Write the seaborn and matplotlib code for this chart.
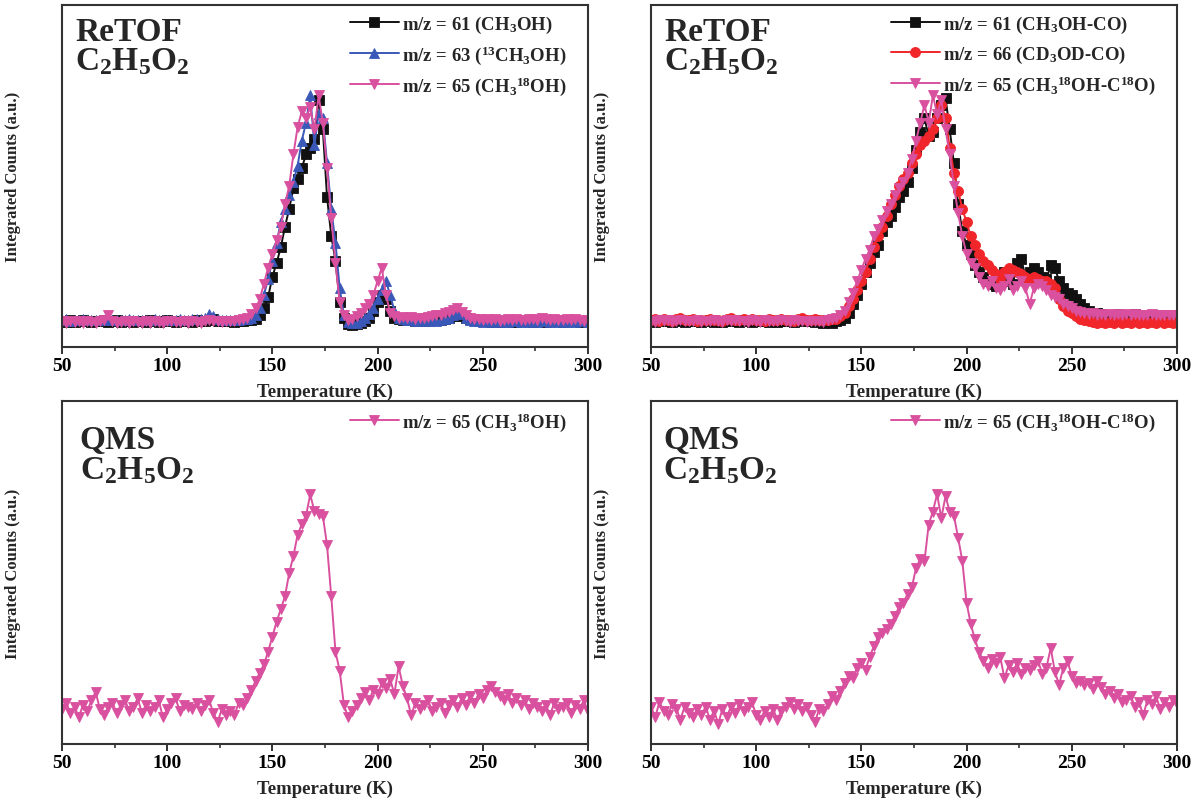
import numpy as np
import pandas as pd
import matplotlib
matplotlib.use("Agg")
import matplotlib.pyplot as plt
from matplotlib.ticker import MultipleLocator
import seaborn as sns

# ---------------- data (arbitrary units: baseline 0, peak 100) -------------
temperature = np.arange(50, 301, 2)  # K

# ReTOF, methanol isotopologues
retof_ch3oh_61 = [
    0.5, 0.2, 0.8, 0.1, 0.4, 0.9, 0.3, 0.0, 0.6, 0.4,
    0.7, 0.2, 0.3, 0.8, 0.1, 0.5, 0.4, 0.0, 0.6, 0.3,
    0.2, 0.7, 0.4, 0.1, 0.5, 0.8, 0.3, 0.2, 0.6, 0.4,
    0.5, 0.1, 0.7, 0.3, 0.6, 0.9, 1.2, 0.6, 0.4, 0.3,
    0.5, 0.2, 0.6, 0.4, 0.8, 1.0, 1.5, 3.0, 6.0, 11.0,
    20, 26, 33, 42, 50, 59, 63, 68, 74, 77,
    81, 98, 85, 55, 38, 27, 9, 2, -1, -1.5,
    -1, -0.5, 0.5, 2, 5, 9, 12, 10, 5, 2,
    1.5, 1.0, 1.2, 0.8, 0.5, 0.9, 0.6, 1.0, 0.7, 0.8,
    1.0, 1.5, 2.0, 2.5, 3.0, 2.6, 2.0, 1.2, 0.8, 0.5,
    0.3, 0.5, 0.2, 0.4, 0.1, 0.3, 0.5, 0.2, 0.0, 0.4,
    0.3, 0.6, 0.2, 0.5, 0.3, 0.1, 0.4, 0.7, 0.3, 0.2,
    0.5, 0.3, 0.6, 0.2, 0.4, 0.3,
]
retof_13ch3oh_63 = [
    0.8, 1.2, 0.6, 1.0, 0.9, 1.3, 0.7, 1.1, 0.8, 1.0,
    0.9, 1.2, 0.8, 1.1, 0.7, 1.0, 1.3, 0.8, 0.9, 1.1,
    0.7, 1.0, 1.2, 0.8, 1.1, 0.9, 1.0, 0.8, 1.2, 0.9,
    1.0, 1.3, 1.5, 1.2, 2.0, 3.5, 2.8, 1.5, 1.0, 0.9,
    1.1, 0.8, 1.0, 1.2, 1.5, 2.0, 3.0, 6.0, 12, 19,
    27, 35, 44, 50, 56, 62, 69, 80, 88, 100,
    78, 92, 90, 70, 50, 35, 15, 3, 0, -0.5,
    -0.5, 0.5, 2, 3.5, 6, 10, 14, 18, 12, 5,
    2.0, 1.2, 0.8, 1.0, 0.6, 0.3, 0.8, 0.5, 0.7, 0.4,
    0.8, 1.2, 2.0, 3.0, 4.0, 3.5, 2.0, 1.0, 0.5, 0.3,
    0.2, 0.5, 0.1, 0.3, 0.0, 0.4, 0.2, 0.6, 0.3, 0.1,
    0.4, 0.2, 0.5, 0.1, 0.3, 0.6, 0.2, 0.4, 0.0, 0.3,
    0.2, 0.5, 0.1, 0.4, 0.3, 0.2,
]
retof_ch318oh_65 = [
    0.3, -0.5, 0.6, 0.0, 0.4, -0.3, 0.5, 0.2, -0.4, 0.3,
    1.0, 3.0, 0.5, -0.3, 0.2, 0.6, -0.2, 0.4, 0.0, -0.5,
    0.3, -0.2, 0.5, 0.1, -0.4, 0.3, 0.6, -0.1, 0.2, 0.4,
    -0.3, 0.5, 0.2, -0.2, 0.6, 0.8, 0.3, 0.5, 0.0, 0.4,
    0.6, 0.3, 0.8, 1.2, 2.0, 3.5, 6.0, 10, 17, 24,
    30, 36, 42, 52, 60, 74, 86, 93, 90, 95,
    85, 100, 88, 68, 46, 26, 9, 3, 1, 1.5,
    2.5, 4, 6, 8, 12, 18, 24, 12, 4, 2.5,
    2.0, 2.4, 1.8, 2.2, 1.5, 2.0, 1.6, 2.3, 2.6, 3.0,
    3.2, 3.8, 4.5, 5.5, 6.0, 4.5, 3.2, 2.0, 1.5, 1.2,
    1.0, 1.4, 0.8, 1.2, 0.6, 1.0, 1.3, 0.9, 1.5, 1.1,
    0.8, 1.2, 1.5, 1.0, 2.0, 1.3, 0.9, 1.4, 1.0, 0.7,
    1.2, 0.8, 1.4, 1.0, 0.6, 0.9,
]

# ReTOF, methanol-CO ices
retof_ch3oh_co_61 = [
    0.5, 0.2, 0.8, 0.3, 0.6, 0.1, 0.4, 0.7, 0.2, 0.5,
    0.3, 0.6, 0.1, 0.5, 0.8, 0.2, 0.4, 0.0, 0.6, 0.3,
    0.5, 0.2, 0.7, 0.4, 0.1, 0.6, 0.3, 0.5, 0.2, 0.4,
    0.1, 0.5, 0.3, 0.6, 0.2, 0.4, 0.7, 0.3, 0.5, 0.0,
    0.3, -0.5, 0.2, -0.3, 0.5, 1.0, 2.0, 4.0, 8.0, 12,
    17, 22, 26, 31, 34, 40, 44, 47, 51, 55,
    58, 62, 68, 76, 84, 90, 82, 84, 90, 96,
    99, 85, 70, 52, 40, 34, 30, 25, 22, 20,
    18, 17, 16, 20, 22, 18, 17, 26, 28, 20,
    22, 24, 22, 20, 19, 25, 24, 18, 15, 13,
    12, 10, 8, 6, 5, 4, 4, 3.5, 3.0, 3.2,
    3.0, 3.5, 2.8, 3.2, 3.0, 3.6, 2.9, 3.3, 3.0, 2.8,
    3.2, 3.0, 2.7, 3.1, 2.9, 3.0,
]
retof_cd3od_co_66 = [
    0.8, 1.2, 0.5, 1.5, 0.9, 0.6, 1.3, 1.8, 0.7, 1.0,
    1.2, 0.6, 1.0, 0.8, 1.4, 0.9, 1.1, 0.5, 1.3, 1.6,
    0.8, 1.0, 1.3, 0.7, 1.5, 0.9, 1.1, 0.6, 1.2, 0.8,
    1.0, 1.4, 0.8, 1.1, 0.6, 1.2, 1.8, 1.0, 0.8, 1.3,
    0.9, 1.1, 0.8, 1.2, 1.5, 2.5, 4.0, 7.0, 10, 14,
    18, 22, 28, 33, 38, 42, 47, 52, 56, 60,
    63, 66, 70, 74, 78, 80, 82, 85, 90, 96,
    90, 77, 66, 58, 50, 44, 38, 34, 30, 27,
    25, 23, 21, 19, 22, 24, 23, 22, 21, 20,
    19, 20, 19, 18, 18, 17, 15, 10, 7, 5,
    4, 2.5, 1.5, 0.8, 0.5, 0.0, -0.3, 0.2, -0.5, 0.0,
    -0.3, 0.3, -0.6, 0.0, -0.2, 0.4, -0.4, 0.1, -0.5, 0.2,
    -0.2, 0.3, -0.5, 0.0, -0.3, 0.1,
]
retof_ch318oh_c18o_65 = [
    0.6, 0.2, 0.9, 0.4, 0.7, 0.1, 0.5, 0.8, 0.3, 0.6,
    0.4, 0.8, 0.2, 0.6, 0.3, 0.9, 0.5, 0.1, 0.7, 0.4,
    0.8, 0.3, 0.6, 0.2, 0.9, 0.5, 0.1, 0.7, 0.4, 0.6,
    0.3, 0.7, 0.5, 0.2, 0.8, 0.4, 0.6, 0.1, 0.5, 0.3,
    0.6, 0.2, 0.8, 1.2, 2.0, 3.0, 5.0, 9.0, 13, 18,
    23, 28, 32, 38, 41, 45, 49, 52, 56, 59,
    62, 66, 72, 80, 88, 96, 88, 100, 92, 98,
    85, 74, 60, 48, 38, 30, 26, 24, 20, 17,
    16, 18, 15, 14, 16, 19, 14, 16, 18, 15,
    8, 15, 17, 16, 14, 12, 11, 10, 8, 7,
    6, 5, 4.5, 4, 3.5, 3.8, 3.2, 3.6, 3.0, 3.4,
    3.2, 3.6, 3.0, 3.4, 3.1, 3.5, 2.9, 3.3, 3.0, 3.4,
    3.1, 3.3, 2.9, 3.2, 3.0, 3.3,
]

# QMS
qms_ch318oh_65 = [
    -1, 2, -3, 0, -5, 1, -2, 3, 7, -1,
    -4, 0, 2, -3, 1, 3, -2, 0, 4, -3,
    1, -2, 0, 3, -5, -1, 2, 4, -2, 1,
    0, -1, 2, -2, 1, 3, -3, -7, -1, -4,
    -2, -4, 2, 1, 4, 8, 12, 16, 20, 26,
    33, 40, 46, 52, 63, 71, 81, 86, 90, 100,
    92, 91, 90, 76, 52, 26, 17, 1, -5, -2,
    1, 4, 7, 3, 8, 6, 11, 9, 13, 6,
    19, 10, 4, -4, 2, -1, 1, 3, -2, 0,
    2, -3, 1, 3, 0, 4, 1, 5, 2, 6,
    4, 8, 10, 7, 5, 3, 6, 2, 4, 1,
    3, -1, 2, 0, -2, 1, -4, 2, -1, 0,
    2, -3, 1, -1, 3, -2,
]
qms_ch318oh_c18o_65 = [
    2, -3, 4, 0, -2, 3, 1, -4, 2, -1,
    -3, 1, -2, 2, -4, 0, -6, 1, -3, 2,
    -1, 3, 0, 2, 4, -2, -4, 0, -3, 1,
    -4, 0, 2, 4, 1, 3, 0, 2, -2, -5,
    1, 0, 3, 7, 5, 9, 13, 16, 15, 20,
    22, 19, 25, 30, 34, 36, 38, 40, 44, 48,
    50, 54, 57, 66, 70, 69, 86, 92, 100, 89,
    99, 92, 90, 80, 69, 50, 40, 33, 27, 23,
    20, 24, 22, 25, 15, 21, 18, 22, 17, 20,
    19, 21, 23, 17, 20, 29, 18, 12, 20, 23,
    16, 13, 14, 12, 13, 10, 14, 11, 8, 9,
    6, 8, 4, 5, 7, 2, 4, -2, 5, 3,
    7, 1, 4, 2, 5, 3,
]

# ---------------- style -------------
sns.set_style("ticks")
plt.rcParams["font.family"] = ["Liberation Serif", "DejaVu Serif"]
plt.rcParams["font.weight"] = "bold"
plt.rcParams["axes.labelweight"] = "bold"
plt.rcParams["mathtext.fontset"] = "custom"
plt.rcParams["mathtext.rm"] = "Liberation Serif:bold"
plt.rcParams["mathtext.it"] = "Liberation Serif:italic:bold"
plt.rcParams["mathtext.bf"] = "Liberation Serif:bold"
plt.rcParams["mathtext.default"] = "rm"

BLACK = "#111111"
BLUE = "#3a58b8"
RED = "#f0262a"
PINK = "#d9509f"

fig = plt.figure(figsize=(11.94, 8.04), dpi=100)
W, H = 0.4405, 0.4255
ax_tl = fig.add_axes([0.0519, 0.5672, W, H])
ax_tr = fig.add_axes([0.5452, 0.5672, W, H])
ax_bl = fig.add_axes([0.0519, 0.0734, W, 0.4266])
ax_br = fig.add_axes([0.5452, 0.0734, W, 0.4266])


def draw(ax, y, color, marker, label):
    df = pd.DataFrame({"T": temperature, "v": y})
    sns.lineplot(data=df, x="T", y="v", ax=ax, color=color, marker=marker,
                 markersize=7.2, markeredgecolor=color, markeredgewidth=0.6,
                 linewidth=1.4, label=label, errorbar=None, sort=False)


draw(ax_tl, retof_ch3oh_61, BLACK, "s", "m/z = 61 (CH$_3$OH)")
draw(ax_tl, retof_13ch3oh_63, BLUE, "^", "m/z = 63 ($^{13}$CH$_3$OH)")
draw(ax_tl, retof_ch318oh_65, PINK, "v", "m/z = 65 (CH$_3$$^{18}$OH)")

draw(ax_tr, retof_ch3oh_co_61, BLACK, "s", "m/z = 61 (CH$_3$OH-CO)")
draw(ax_tr, retof_cd3od_co_66, RED, "o", "m/z = 66 (CD$_3$OD-CO)")
draw(ax_tr, retof_ch318oh_c18o_65, PINK, "v", "m/z = 65 (CH$_3$$^{18}$OH-C$^{18}$O)")

draw(ax_bl, qms_ch318oh_65, PINK, "v", "m/z = 65 (CH$_3$$^{18}$OH)")
draw(ax_br, qms_ch318oh_c18o_65, PINK, "v", "m/z = 65 (CH$_3$$^{18}$OH-C$^{18}$O)")

ylims = {ax_tl: (-11, 140), ax_tr: (-11, 140), ax_bl: (-17.5, 144), ax_br: (-15.3, 143)}
notes = {ax_tl: ("ReTOF", 0.025), ax_tr: ("ReTOF", 0.025), ax_bl: ("QMS", 0.034), ax_br: ("QMS", 0.023)}

for ax in (ax_tl, ax_tr, ax_bl, ax_br):
    ax.set_xlim(50, 300)
    ax.set_ylim(*ylims[ax])
    ax.xaxis.set_major_locator(MultipleLocator(50))
    ax.xaxis.set_minor_locator(MultipleLocator(25))
    ax.set_yticks([])
    ax.tick_params(axis="x", which="major", direction="out", length=5, width=1.3,
                   labelsize=14, pad=2.5, colors="#222222")
    ax.tick_params(axis="x", which="minor", direction="out", length=3, width=1.1, colors="#222222")
    for lab in ax.get_xticklabels():
        lab.set_fontweight("bold")
        lab.set_color("black")
    for sp in ax.spines.values():
        sp.set_visible(True)
        sp.set_linewidth(1.5)
        sp.set_color("#333333")
    ax.set_xlabel("Temperature (K)", fontsize=13.5, fontweight="bold")
    ax.set_ylabel("Integrated Counts (a.u.)", fontsize=12, fontweight="bold")
    ax.xaxis.set_label_coords(0.5, -0.105)
    ax.yaxis.set_label_coords(-0.077, 0.5)
    leg = ax.legend(loc="upper right", bbox_to_anchor=(0.985, 1.012), frameon=False,
                    fontsize=13.5, handlelength=2.6, handletextpad=0.2,
                    labelspacing=0.45, borderaxespad=0.3)
    for t in leg.get_texts():
        t.set_fontweight("bold")
    name, xpos = notes[ax]
    top_y = 0.921 if name == "ReTOF" else 0.889
    low_y = 0.836 if name == "ReTOF" else 0.800
    ax.text(xpos, top_y, name, transform=ax.transAxes, fontsize=24,
            fontweight="bold", va="center", ha="left")
    ax.text(xpos, low_y, "C$_2$H$_5$O$_2$", transform=ax.transAxes, fontsize=24,
            fontweight="bold", va="center", ha="left")

fig.savefig("out.png", dpi=100, facecolor="white")
